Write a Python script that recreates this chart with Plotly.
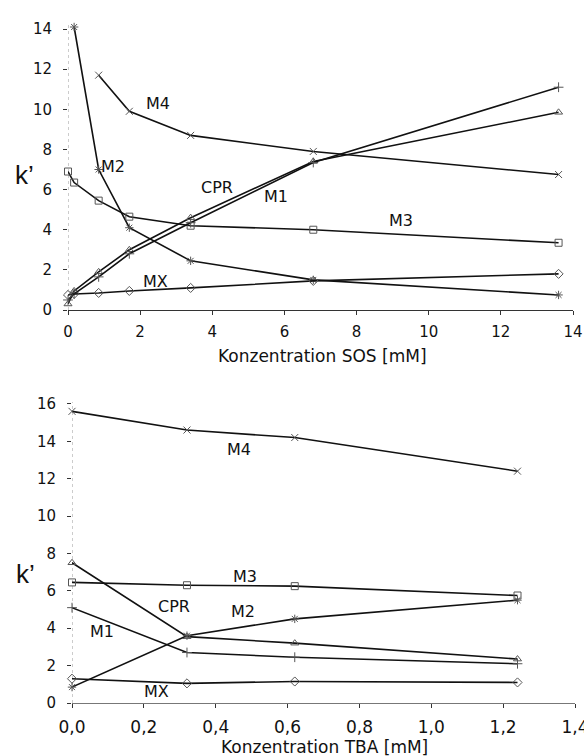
import plotly.graph_objects as go

# ---------------- data: top panel (SOS) ----------------
sos_m4_x = [0.85, 1.7, 3.4, 6.8, 13.6]
sos_m4_y = [11.7, 9.9, 8.7, 7.9, 6.75]
sos_m2_x = [0.17, 0.85, 1.7, 3.4, 6.8, 13.6]
sos_m2_y = [14.1, 7.0, 4.1, 2.45, 1.5, 0.75]
sos_x = [0, 0.17, 0.85, 1.7, 3.4, 6.8, 13.6]
sos_m3_y = [6.9, 6.35, 5.45, 4.65, 4.2, 4.0, 3.35]
sos_cpr_y = [0.3, 0.95, 1.9, 3.0, 4.6, 7.4, 9.85]
sos_m1_y = [0.5, 0.8, 1.65, 2.8, 4.35, 7.35, 11.1]
sos_mx_y = [0.75, 0.8, 0.85, 0.95, 1.1, 1.45, 1.8]

# ---------------- data: bottom panel (TBA) ----------------
tba_x = [0, 0.32, 0.62, 1.24]
tba_m4_y = [15.6, 14.6, 14.2, 12.4]
tba_m3_y = [6.45, 6.3, 6.25, 5.75]
tba_cpr_y = [7.5, 3.55, 3.2, 2.35]
tba_m1_y = [5.1, 2.7, 2.45, 2.1]
tba_m2_y = [0.85, 3.6, 4.5, 5.5]
tba_mx_y = [1.3, 1.05, 1.15, 1.1]

top_ticks = [0, 2, 4, 6, 8, 10, 12, 14]
bot_yticks = [0, 2, 4, 6, 8, 10, 12, 14, 16]
bot_xticks = [0, 0.2, 0.4, 0.6, 0.8, 1.0, 1.2, 1.4]

# labels (text, x, y) in data units
top_labels = [("M4", 2.49, 10.3), ("M2", 1.24, 7.17), ("CPR", 4.14, 6.08),
              ("M1", 5.77, 5.68), ("M3", 9.23, 4.48), ("MX", 2.43, 1.40)]
bot_labels = [("M4", 0.465, 13.54), ("M3", 0.481, 6.74), ("CPR", 0.284, 5.14),
              ("M2", 0.476, 4.92), ("M1", 0.083, 3.80), ("MX", 0.234, 0.59)]

FONT = "DejaVu Sans"
LINE = dict(color="#111111", width=1.6)
MK = "#555555"

def tr(x, y, symbol, xa, ya, size=7):
    return go.Scatter(x=x, y=y, mode="lines+markers", line=LINE,
                      marker=dict(symbol=symbol, size=size, color=MK,
                                  line=dict(color=MK, width=1)),
                      xaxis=xa, yaxis=ya, showlegend=False, cliponaxis=False,
                      hoverinfo="x+y")

fig = go.Figure()
# top
fig.add_trace(tr(sos_m4_x, sos_m4_y, "x-thin-open", "x", "y"))
fig.add_trace(tr(sos_m2_x, sos_m2_y, "asterisk-open", "x", "y"))
fig.add_trace(tr(sos_x, sos_m3_y, "square-open", "x", "y"))
fig.add_trace(tr(sos_x, sos_cpr_y, "triangle-up-open", "x", "y"))
fig.add_trace(tr(sos_x, sos_m1_y, "cross-thin-open", "x", "y"))
fig.add_trace(tr(sos_x, sos_mx_y, "diamond-open", "x", "y"))
# bottom
fig.add_trace(tr(tba_x, tba_m4_y, "x-thin-open", "x2", "y2"))
fig.add_trace(tr(tba_x, tba_m3_y, "square-open", "x2", "y2"))
fig.add_trace(tr(tba_x, tba_cpr_y, "triangle-up-open", "x2", "y2"))
fig.add_trace(tr(tba_x, tba_m1_y, "cross-thin-open", "x2", "y2"))
fig.add_trace(tr(tba_x, tba_m2_y, "asterisk-open", "x2", "y2"))
fig.add_trace(tr(tba_x, tba_mx_y, "diamond-open", "x2", "y2"))

W, H = 584, 756

ax_common = dict(showgrid=False, zeroline=False, ticks="outside", ticklen=4,
                 tickcolor="#333", tickwidth=1, automargin=False,
                 ticklabeloverflow="allow")

fig.update_layout(
    width=W, height=H, margin=dict(l=0, r=0, t=0, b=0, pad=0),
    paper_bgcolor="white", plot_bgcolor="white",
    separators=",.",
    font=dict(family=FONT, color="#111"),
    xaxis=dict(domain=[68 / W, 573 / W], range=[0, 14], tickvals=top_ticks,
               anchor="y", showline=True, linecolor="#333", linewidth=1,
               tickfont=dict(size=15), ticklabelstandoff=4, **ax_common),
    yaxis=dict(domain=[1 - 310 / H, 1 - 23 / H], range=[0, 14.3],
               tickvals=top_ticks, anchor="x", showline=False,
               tickfont=dict(size=15), ticklabelstandoff=8, **ax_common),
    xaxis2=dict(domain=[72 / W, 575 / W], range=[0, 1.4], tickvals=bot_xticks,
                tickformat=".1f", anchor="y2", showline=True,
                linecolor="#777", linewidth=1,
                tickfont=dict(size=17), ticklabelstandoff=5, **ax_common),
    yaxis2=dict(domain=[1 - 703 / H, 1 - 402 / H], range=[0, 16.1],
                tickvals=bot_yticks, anchor="x2", showline=False,
                tickfont=dict(size=15), ticklabelstandoff=8, **ax_common),
)

shapes = [
    dict(type="line", xref="x", yref="y", x0=0, x1=0, y0=0, y1=14.3,
         line=dict(color="#999", width=1, dash="dot"), layer="below"),
    dict(type="line", xref="x2", yref="y2", x0=0, x1=0, y0=0, y1=16.1,
         line=dict(color="#999", width=1, dash="dot"), layer="below"),
]
fig.update_layout(shapes=shapes)

ann = []
for t, x, y in top_labels:
    ann.append(dict(text=t, x=x, y=y, xref="x", yref="y", showarrow=False,
                    font=dict(size=16, family=FONT)))
for t, x, y in bot_labels:
    ann.append(dict(text=t, x=x, y=y, xref="x2", yref="y2", showarrow=False,
                    font=dict(size=16, family=FONT)))
mid = dict(xanchor="center", yanchor="middle", xref="paper", yref="paper",
           showarrow=False)
ann += [
    dict(text="k’", x=24 / W, y=1 - 175 / H,
         font=dict(size=26, family="Liberation Sans"), **mid),
    dict(text="k’", x=25 / W, y=1 - 574 / H,
         font=dict(size=26, family="Liberation Sans"), **mid),
    dict(text="Konzentration SOS [mM]", x=322 / W, y=1 - 356 / H,
         font=dict(size=17, family=FONT), **mid),
    dict(text="Konzentration TBA [mM]", x=325 / W, y=1 - 747 / H,
         font=dict(size=17, family=FONT), **mid),
]
fig.update_layout(annotations=ann)

fig.write_html("out.html")
